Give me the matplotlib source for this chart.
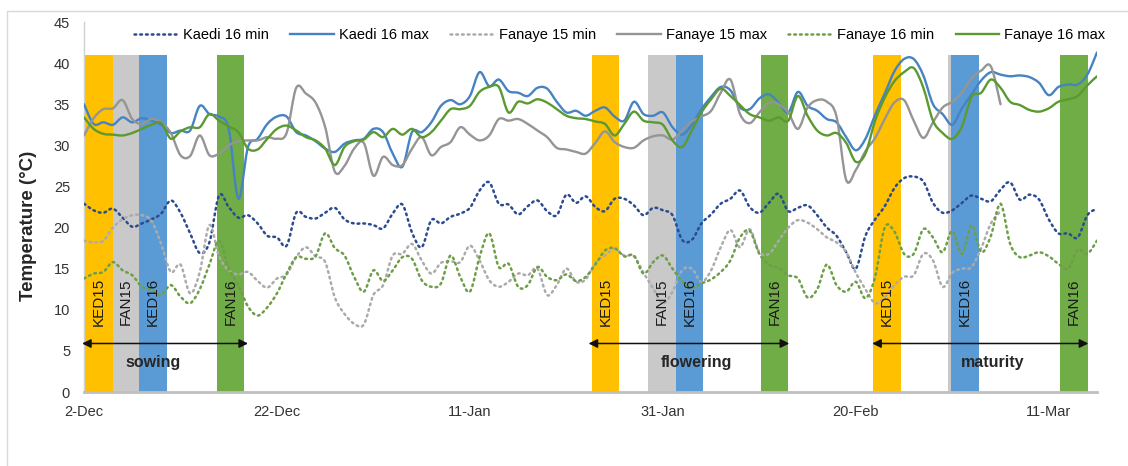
import numpy as np
import matplotlib
matplotlib.use("Agg")
import matplotlib.pyplot as plt
from matplotlib.patches import Rectangle, PathPatch
from matplotlib.path import Path

plt.rcParams['font.family'] = ['Liberation Sans', 'DejaVu Sans']

# ---------------- data (daily values from 2-Dec) ----------------
kaedi16_min = [22.9, 22.1, 21.8, 22.3, 21.2, 20.1, 20.5, 21.0, 21.7, 23.3, 21.8, 19.3, 16.9, 18.2, 23.9, 22.5, 21.2, 21.5, 20.5, 19.0,
               18.8, 17.8, 21.8, 21.3, 21.1, 21.8, 22.4, 21.0, 20.5, 20.5, 20.3, 19.9, 21.7, 22.8, 19.4, 17.6, 20.9, 20.5, 21.3, 21.7,
               22.4, 24.5, 25.5, 22.9, 22.8, 21.6, 22.6, 23.3, 22.0, 21.5, 24.0, 23.0, 23.8, 22.5, 22.0, 23.5, 23.5, 22.7, 21.5, 22.4,
               22.1, 21.5, 18.5, 18.5, 20.5, 21.6, 22.9, 23.5, 24.5, 22.5, 21.8, 23.0, 24.1, 22.0, 22.4, 22.7, 21.5, 20.0, 19.0, 17.0,
               15.0, 19.0, 21.0, 22.6, 24.8, 26.0, 26.2, 25.6, 23.0, 21.8, 22.1, 23.0, 23.9, 23.5, 23.2, 24.6, 25.5, 23.4, 24.0, 23.4,
               21.0, 19.3, 19.3, 18.8, 21.5, 22.3]
kaedi16_max = [35.0, 32.6, 32.8, 32.5, 33.4, 32.8, 33.3, 33.0, 32.5, 31.5, 31.8, 31.8, 34.8, 33.8, 33.5, 32.0, 23.5, 29.8, 30.8, 32.6,
               33.5, 33.5, 31.6, 31.2, 30.5, 29.6, 29.2, 30.2, 30.6, 30.8, 32.0, 31.6, 29.0, 27.4, 31.6, 31.6, 32.8, 34.8, 35.5, 35.0,
               36.0, 38.9, 37.2, 38.0, 36.6, 36.4, 36.0, 37.0, 36.9, 35.3, 34.0, 34.2, 33.6, 34.2, 34.6, 33.5, 33.0, 35.3, 33.8, 33.6,
               34.0, 32.2, 31.3, 32.5, 34.4, 35.9, 37.1, 36.7, 34.6, 34.4, 35.7, 36.2, 35.2, 34.0, 36.5, 34.8, 34.2, 33.2, 32.8, 31.0,
               29.4, 30.8, 33.7, 36.3, 39.0, 40.5, 40.5, 38.5, 35.0, 33.8, 32.5, 34.5, 36.2, 37.9, 38.9, 38.6, 38.4, 38.5, 38.3, 37.6,
               36.1, 37.1, 37.4, 37.4, 38.6, 41.3]
fanaye15_min = [18.4, 18.2, 18.4, 20.0, 21.0, 21.5, 21.5, 20.8, 18.0, 14.6, 15.5, 12.0, 14.6, 20.3, 16.5, 14.8, 14.3, 14.6, 13.5, 12.7,
                13.8, 14.3, 16.4, 17.6, 16.5, 15.8, 11.5, 9.5, 8.3, 8.2, 11.8, 13.0, 16.6, 16.8, 18.0, 16.0, 14.4, 15.7, 15.9, 15.8,
                17.8, 16.0, 13.6, 12.8, 13.4, 14.4, 14.2, 15.0, 11.8, 13.0, 15.0, 13.4, 13.7, 15.7, 16.6, 17.4, 16.6, 16.5, 14.5, 12.6,
                10.8, 12.2, 14.8, 15.0, 13.4, 14.8, 17.6, 19.7, 17.6, 19.8, 17.0, 16.8, 18.4, 20.0, 20.9, 20.6, 19.8, 18.8, 18.2, 17.0,
                14.5, 12.5, 10.8, 11.5, 13.0, 14.0, 14.2, 16.8, 16.0, 12.8, 14.5, 15.0, 15.2, 17.5, 20.5, 22.0]
fanaye15_max = [31.2, 33.3, 34.4, 34.5, 35.5, 33.2, 32.6, 33.2, 32.8, 31.5, 28.8, 28.7, 31.2, 28.8, 29.0, 30.0, 30.5, 30.6, 30.6, 31.0,
                30.8, 31.5, 37.0, 36.3, 35.2, 32.2, 26.8, 27.5, 29.6, 30.3, 26.3, 28.6, 27.6, 27.6, 29.6, 31.0, 28.8, 29.8, 30.4, 32.2,
                31.3, 30.6, 31.2, 33.2, 33.0, 33.2, 32.6, 31.8, 31.0, 29.7, 29.5, 29.2, 29.0, 30.3, 31.7, 30.4, 29.8, 29.7, 30.6, 31.1,
                31.2, 30.7, 31.8, 32.9, 33.5, 34.2, 36.4, 38.0, 33.8, 32.7, 34.0, 35.2, 35.0, 34.0, 32.0, 34.6, 35.5, 35.3, 33.5, 25.8,
                27.0, 29.3, 30.9, 33.2, 35.2, 35.5, 33.0, 30.9, 32.8, 34.6, 35.3, 36.4, 38.2, 39.1, 39.6, 35.0]
fanaye16_min = [13.8, 14.4, 14.6, 15.8, 14.8, 14.2, 12.8, 12.4, 11.8, 13.0, 11.6, 10.8, 12.5, 15.5, 18.4, 15.0, 13.0, 10.4, 9.3, 10.3,
                12.0, 14.4, 16.4, 16.2, 16.5, 19.3, 17.5, 16.6, 14.0, 12.2, 14.8, 13.5, 14.8, 16.4, 16.2, 13.6, 12.8, 13.2, 16.6, 14.0,
                12.2, 16.4, 19.3, 15.2, 15.6, 12.8, 13.0, 15.2, 14.0, 13.6, 14.3, 13.5, 14.0, 15.5, 17.2, 17.5, 16.5, 16.6, 14.4, 15.8,
                16.6, 15.0, 13.5, 12.7, 13.2, 13.7, 14.6, 16.0, 18.8, 19.6, 16.8, 15.5, 15.1, 14.2, 13.8, 11.5, 12.5, 15.5, 13.0, 12.2,
                13.4, 11.4, 14.0, 20.0, 19.5, 16.8, 16.8, 19.8, 18.8, 17.0, 19.6, 16.8, 20.3, 17.0, 19.0, 22.9, 18.0, 16.4, 16.6, 17.0,
                16.5, 15.6, 15.0, 17.3, 16.8, 18.4]
fanaye16_max = [33.4, 32.0, 31.4, 31.3, 31.2, 31.5, 32.0, 32.5, 32.7, 30.8, 31.7, 32.2, 32.2, 33.8, 33.0, 32.3, 31.6, 29.6, 29.5, 30.8,
                32.0, 32.4, 31.8, 31.0, 30.6, 29.6, 27.6, 29.8, 30.5, 30.7, 31.6, 31.0, 32.0, 31.3, 32.0, 31.0, 31.6, 33.0, 34.4, 34.4,
                34.8, 36.5, 37.1, 37.1, 34.0, 35.3, 35.1, 35.6, 35.2, 34.4, 33.6, 33.3, 33.2, 32.9, 32.6, 31.2, 32.6, 34.1, 33.0, 32.8,
                32.5, 30.6, 29.8, 31.8, 34.0, 35.6, 36.9, 36.0, 34.9, 33.8, 33.4, 33.0, 33.4, 33.0, 36.0, 33.6, 31.8, 31.2, 31.5, 30.3,
                28.0, 29.0, 33.0, 35.8, 37.8, 38.9, 39.4, 37.0, 33.0, 31.5, 30.8, 32.3, 35.9, 36.4, 38.0, 37.0, 35.3, 34.9, 34.3, 34.1,
                34.5, 35.3, 35.6, 36.0, 37.3, 38.4]

tick_days = [0, 20, 40, 60, 80, 100]
tick_labels = ['2-Dec', '22-Dec', '11-Jan', '31-Jan', '20-Feb', '11-Mar']

# stage bars: site and centre day (days after 2-Dec)
bar_sites = ['KED15', 'FAN15', 'KED16', 'FAN16',
             'KED15', 'FAN15', 'KED16', 'FAN16',
             'KED15', 'FAN15', 'KED16', 'FAN16']
bar_days = [1.55, 4.35, 7.15, 15.2,
            54.05, 59.9, 62.75, 71.55,
            83.25, 91.0, 91.3, 102.6]
bar_labelled = [True, True, True, True,
                True, True, True, True,
                True, False, True, True]
bar_top = 41

stages = ['sowing', 'flowering', 'maturity']
stage_start = [-0.2, 52.3, 81.7]
stage_end = [17.0, 73.1, 104.1]
stage_text_x = [7.2, 63.5, 94.2]

# ---------------- styles ----------------
site_colors = {'KED15': '#FFC000', 'FAN15': '#C9C9C9', 'KED16': '#5B9BD5', 'FAN16': '#70AD47'}
bar_width = 2.85

W, H = 1128, 466
fig = plt.figure(figsize=(W / 100, H / 100), dpi=100)
ax = fig.add_axes([84 / W, 1 - 392 / H, (1097 - 84) / W, (392 - 22) / H])


def smooth_path(vals):
    """Excel-like smoothed line: cubic Bezier through every data point."""
    x = np.arange(len(vals), dtype=float)
    y = np.asarray(vals, dtype=float)
    p = np.column_stack([x, y])
    n = len(p)
    verts = [p[0]]
    codes = [Path.MOVETO]
    for i in range(n - 1):
        p0 = p[i - 1] if i > 0 else p[i]
        p1 = p[i]
        p2 = p[i + 1]
        p3 = p[i + 2] if i + 2 < n else p[i + 1]
        c1 = p1 + (p2 - p0) / 6.0
        c2 = p2 - (p3 - p1) / 6.0
        verts += [c1, c2, p2]
        codes += [Path.CURVE4] * 3
    return Path(verts, codes)


# bars
for site, d in zip(bar_sites, bar_days):
    if site == 'FAN15':
        ax.bar(d, bar_top, width=bar_width, color=site_colors[site], zorder=1, linewidth=0)
for site, d in zip(bar_sites, bar_days):
    if site != 'FAN15':
        ax.bar(d, bar_top, width=bar_width, color=site_colors[site], zorder=1.1, linewidth=0)
for site, d, lab in zip(bar_sites, bar_days, bar_labelled):
    if lab:
        ax.text(d, 11, site, rotation=90, ha='center', va='center', fontsize=11,
                color='#1a1a1a', zorder=5)

# lines
dot = (0, (0.7, 1.6))
series = [
    ('Kaedi 16 min', kaedi16_min, '#2B4B8F', dot, 1.8),
    ('Kaedi 16 max', kaedi16_max, '#4683C2', '-', 1.7),
    ('Fanaye 15 min', fanaye15_min, '#ABABAB', dot, 1.8),
    ('Fanaye 15 max', fanaye15_max, '#959595', '-', 1.7),
    ('Fanaye 16 min', fanaye16_min, '#6E9E48', dot, 1.8),
    ('Fanaye 16 max', fanaye16_max, '#5A9A30', '-', 1.7),
]
for k, (name, vals, col, ls, lw) in enumerate(series):
    patch = PathPatch(smooth_path(vals), fill=False, edgecolor=col, linewidth=lw,
                      linestyle=ls, zorder=3 + 0.01 * k, capstyle='round', joinstyle='round')
    ax.add_patch(patch)
    ax.plot([], [], color=col, linestyle=ls, linewidth=lw, label=name,
            dash_capstyle='round')

# stage arrows
for name, s, e, tx in zip(stages, stage_start, stage_end, stage_text_x):
    ax.annotate('', xy=(e, 5.9), xytext=(s, 5.9),
                arrowprops=dict(arrowstyle='<|-|>', color='#111111', lw=1.1,
                                mutation_scale=13, shrinkA=0, shrinkB=0), zorder=6)
    ax.text(tx, 3.6, name, ha='center', va='center', fontsize=11.5, fontweight='bold',
            color='#262626', zorder=6)

ax.set_xlim(0, 105)
ax.set_ylim(0, 45)
ax.set_yticks(np.arange(0, 46, 5))
ax.set_xticks(tick_days)
ax.set_xticklabels(tick_labels)
ax.tick_params(axis='both', length=0, labelsize=10.5, colors='#333333')
ax.tick_params(axis='y', pad=10)
ax.tick_params(axis='x', pad=9)
for sp in ['top', 'right']:
    ax.spines[sp].set_visible(False)
ax.spines['left'].set_color('#D0D0D0')
ax.spines['left'].set_linewidth(1.0)
ax.spines['bottom'].set_color('#BFBFBF')
ax.spines['bottom'].set_linewidth(2.0)
ax.spines['bottom'].set_zorder(4)

ax.set_ylabel('Temperature (°C)', fontsize=13.5, fontweight='bold', color='#262626')
ax.yaxis.set_label_coords(-0.046, 0.45)

fig.legend(loc='center', bbox_to_anchor=(620 / W, 1 - 35 / H), ncol=6, frameon=False,
           fontsize=10.5, handlelength=3.0, handletextpad=0.35, columnspacing=1.45)

# chart-area border
fig.add_artist(Rectangle((7 / W, -0.5), 2, 0.5 + (1 - 11 / H), transform=fig.transFigure,
                         fill=False, edgecolor='#D9D9D9', linewidth=1.0))

fig.savefig('out.png', dpi=100)
